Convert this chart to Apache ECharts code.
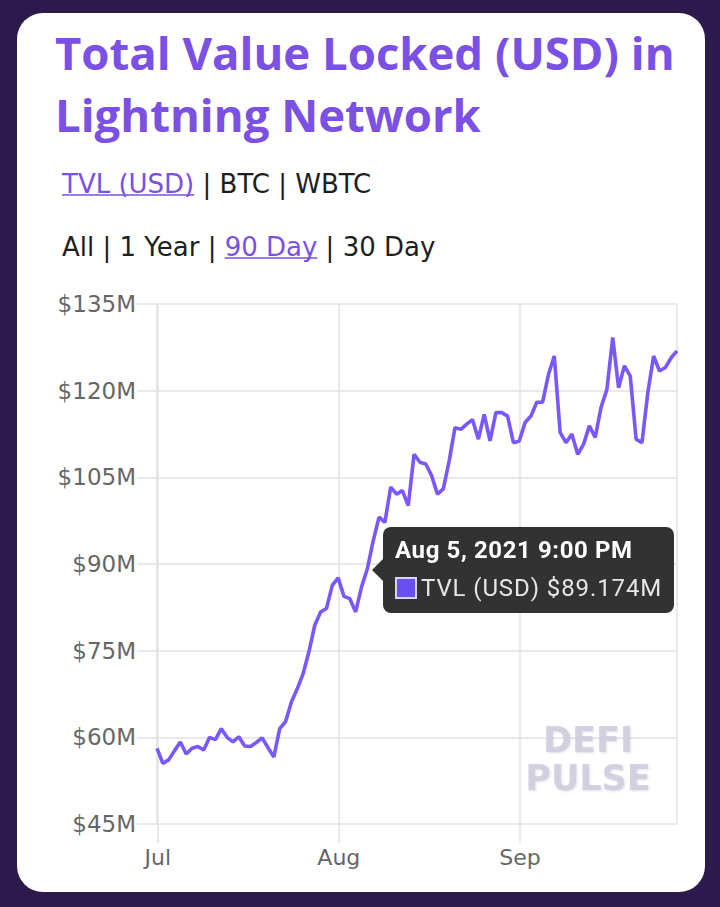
<!DOCTYPE html>
<html>
<head>
<meta charset="utf-8">
<script src="https://cdn.jsdelivr.net/npm/echarts@6/dist/echarts.min.js"></script>
<style>
  html, body { margin: 0; padding: 0; background: #2b1a4b; }
  #chart { width: 720px; height: 907px; }
</style>
</head>
<body>
<div id="chart"></div>
<script>
// ---- data ----
const seriesName = 'TVL (USD)';
const startTime = new Date(2021, 5, 30, 21, 0, 0).getTime(); // first daily sample, 9:00 PM
const DAY = 86400000;
const tvlValues = [
  58.1, 55.5, 56.1, 57.7, 59.2, 57.1, 58.1, 58.4, 57.8, 60.0,
  59.6, 61.5, 60.0, 59.2, 60.1, 58.5, 58.4, 59.1, 59.9, 58.2,
  56.6, 61.5, 62.7, 66.1, 68.4, 71.0, 74.8, 79.4, 81.7, 82.3,
  86.3, 87.6, 84.4, 84.0, 81.7, 86.0, 89.174, 94.0, 98.1, 97.2,
  103.3, 102.1, 102.7, 100.1, 109.0, 107.6, 107.3, 105.3, 102.1, 103.0,
  107.8, 113.6, 113.3, 114.2, 115.0, 111.6, 115.9, 111.3, 116.2, 116.2,
  115.6, 111.0, 111.3, 114.5, 115.6, 118.0, 118.0, 122.8, 126.0, 112.8,
  111.0, 112.5, 109.0, 110.7, 113.9, 111.9, 117.1, 120.2, 129.2, 120.5,
  124.3, 122.5, 111.6, 111.0, 119.6, 126.0, 123.4, 124.0, 125.7, 126.9
];
const sampleDates = tvlValues.map((_, i) => startTime + i * DAY);
const yTicks = { min: 45, max: 135, interval: 15 };
const monthNames = ['Jan','Feb','Mar','Apr','May','Jun','Jul','Aug','Sep','Oct','Nov','Dec'];
const tooltipIndex = 36;
const titleLines = ['Total Value Locked (USD) in', 'Lightning Network'];
const metricLinks = ['TVL (USD)', 'BTC', 'WBTC'];
const rangeLinks = ['All', '1 Year', '90 Day', '30 Day'];
const watermark = ['DEFI', 'PULSE'];

// ---- styles ----
const PURPLE = '#7a50e5';
const LINE = '#6f50ea';
const GRID = '#e2e2e2';
const LINKSIZE = 26;
const LINKFONT = LINKSIZE + 'px "DejaVu Sans"';
const AXISFONT = 'DejaVu Sans';

function textWidth(t, font) {
  const c = document.createElement('canvas').getContext('2d');
  c.font = font;
  return c.measureText(t).width;
}
function fmtDate(ts) {
  const d = new Date(ts);
  let h = d.getHours();
  const ap = h >= 12 ? 'PM' : 'AM';
  h = h % 12; if (h === 0) h = 12;
  const m = String(d.getMinutes()).padStart(2, '0');
  return monthNames[d.getMonth()] + ' ' + d.getDate() + ', ' + d.getFullYear() + ' ' + h + ':' + m + ' ' + ap;
}

const chart = echarts.init(document.getElementById('chart'), null, { renderer: 'svg' });

const linkX = 62;
const sep = ' | ';
const row1 = '{p|' + metricLinks[0] + '}{n|' + sep + metricLinks.slice(1).join(sep) + '}';
const row2 = '{n|' + rangeLinks.slice(0, 2).join(sep) + sep + '}{p|' + rangeLinks[2] + '}{n|' + sep + rangeLinks[3] + '}';
const u1w = textWidth(metricLinks[0], LINKFONT);
const u2x = linkX + textWidth(rangeLinks.slice(0, 2).join(sep) + sep, LINKFONT);
const u2w = textWidth(rangeLinks[2], LINKFONT);
const richStyle = {
  p: { fontFamily: 'DejaVu Sans', fontSize: LINKSIZE, fill: PURPLE },
  n: { fontFamily: 'DejaVu Sans', fontSize: LINKSIZE, fill: '#1e1e1e' }
};
const titleFont = 'bold 45.5px "Open Sans"';

const option = {
  animation: false,
  grid: { left: 157, right: 43, top: 304, bottom: 83 },
  graphic: [
    { type: 'rect', z: -10, silent: true, shape: { x: 17, y: 13, width: 688, height: 879, r: 26 }, style: { fill: '#ffffff' } },
    { type: 'text', x: 55, y: 52, style: { text: titleLines[0], font: titleFont, fill: PURPLE, verticalAlign: 'middle' } },
    { type: 'text', x: 55, y: 114, style: { text: titleLines[1], font: titleFont, fill: PURPLE, verticalAlign: 'middle' } },
    { type: 'text', x: linkX, y: 184, style: { text: row1, rich: richStyle, verticalAlign: 'middle' } },
    { type: 'line', shape: { x1: linkX, y1: 195, x2: linkX + u1w, y2: 195 }, style: { stroke: PURPLE, lineWidth: 1.5 } },
    { type: 'text', x: linkX, y: 247, style: { text: row2, rich: richStyle, verticalAlign: 'middle' } },
    { type: 'line', shape: { x1: u2x, y1: 258, x2: u2x + u2w, y2: 258 }, style: { stroke: PURPLE, lineWidth: 1.5 } },
    { type: 'text', z: 5, silent: true, x: 588, y: 759, style: { text: watermark.join('\n'), font: 'bold 35px "DejaVu Sans"', lineHeight: 38, fill: 'rgba(205,203,220,0.8)', align: 'center', verticalAlign: 'middle', textShadowColor: 'rgba(150,140,175,0.35)', textShadowBlur: 2, textShadowOffsetX: 1, textShadowOffsetY: 1 } }
  ],
  tooltip: {
    trigger: 'axis',
    triggerOn: 'none',
    alwaysShowContent: true,
    transitionDuration: 0,
    axisPointer: { type: 'none' },
    backgroundColor: 'rgba(34,34,34,0.93)',
    borderWidth: 0,
    padding: [7, 12, 9, 12],
    extraCssText: 'border-radius:8px; box-shadow:none;',
    position: function (point) { return [point[0] + 16, point[1] - 42]; },
    formatter: function (params) {
      const p = params[0];
      const arrow = '<div style="position:absolute;left:-11px;top:32px;width:0;height:0;border-top:11px solid transparent;border-bottom:11px solid transparent;border-right:11px solid rgba(34,34,34,0.93);"></div>';
      return arrow +
        '<div style="font-family:Roboto;font-weight:700;font-size:24px;letter-spacing:0.6px;color:#fff;line-height:32px;">' + fmtDate(p.value[0]) + '</div>' +
        '<div style="font-family:Roboto;font-size:24px;letter-spacing:0.9px;color:#e6e6e6;line-height:32px;margin-top:6px;white-space:nowrap;">' +
        '<span style="display:inline-block;width:18px;height:18px;background:#6a4ff0;border:2px solid #d9d2ff;vertical-align:-3px;margin-right:4px;"></span>' +
        p.seriesName + ' $' + p.value[1].toFixed(3) + 'M</div>';
    }
  },
  xAxis: {
    type: 'time',
    min: sampleDates[0],
    max: sampleDates[sampleDates.length - 1],
    splitNumber: 3,
    minInterval: 28 * DAY,
    axisLine: { show: false },
    axisTick: { show: true, length: 19, lineStyle: { color: GRID, width: 1.5 } },
    splitLine: { show: true, lineStyle: { color: GRID, width: 1.5 } },
    axisLabel: {
      color: '#666', fontFamily: AXISFONT, fontSize: 22, margin: 22,
      showMinLabel: false, showMaxLabel: false,
      formatter: function (v) {
        const d = new Date(v);
        return (d.getDate() === 1 && d.getHours() === 0) ? monthNames[d.getMonth()] : '';
      }
    }
  },
  yAxis: {
    type: 'value',
    min: yTicks.min, max: yTicks.max, interval: yTicks.interval,
    axisLine: { show: false },
    axisTick: { show: true, length: 20, lineStyle: { color: GRID, width: 1.5 } },
    splitLine: { show: true, lineStyle: { color: GRID, width: 1.5 } },
    axisLabel: { color: '#666', fontFamily: AXISFONT, fontSize: 23, margin: 21, formatter: '${value}M' }
  },
  series: [{
    name: seriesName,
    type: 'line',
    symbol: 'none',
    data: sampleDates.map((t, i) => [t, tvlValues[i]]),
    lineStyle: { color: LINE, width: 3.6 },
    itemStyle: { color: LINE },
    z: 3
  }]
};
chart.setOption(option);
chart.dispatchAction({ type: 'showTip', seriesIndex: 0, dataIndex: tooltipIndex });
</script>
</body>
</html>
